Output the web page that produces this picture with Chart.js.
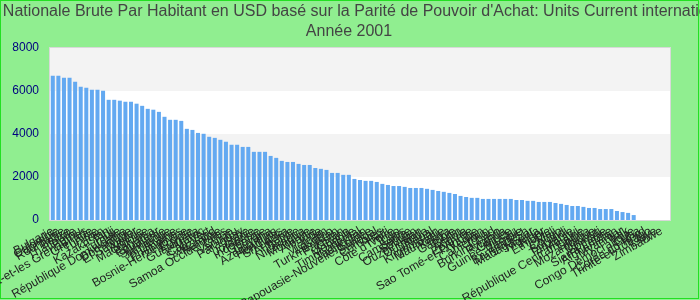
<!DOCTYPE html>
<html>
<head>
<meta charset="utf-8">
<script src="https://cdn.jsdelivr.net/npm/chart.js@4/dist/chart.umd.min.js"></script>
<style>
  html, body { margin: 0; padding: 0; background: #90ee90; }
  #wrap { width: 700px; height: 300px; }
</style>
</head>
<body>
<div id="wrap"><canvas id="chart" width="700" height="300"></canvas></div>
<script>
// --- Données ---
const titleLines = [
    "Rente Nationale Brute Par Habitant en USD basé sur la Parité de Pouvoir d'Achat: Units Current international $",
    "Année 2001"
];

const countries = [
    "Bulgarie", "Colombie", "Roumanie", "Belize", "Thaïlande", "Pérou",
    "Saint-Vincent-et-les Grenadines", "Grenade", "Tunisie", "Iran", "Kazakhstan",
    "Fidji", "Turquie", "République Dominicaine", "Dominique", "El Salvador",
    "Algérie", "Macédoine", "Panama", "Équateur", "Suriname", "Jamaïque",
    "Ukraine", "Philippines", "Bosnie-Herzégovine", "Égypte", "Guatemala", "Maroc",
    "Cap-Vert", "Swaziland", "Namibie", "Samoa Occidentales", "Chine", "Vanuatu",
    "Paraguay", "Syrie", "Jordanie", "Indonésie", "Géorgie", "Guyana", "Azerbaïdjan",
    "Honduras", "Sri Lanka", "Arménie", "Bolivie", "Nicaragua", "Moldavie", "Albanie",
    "Inde", "Vietnam", "Lesotho", "Turkménistan", "Pakistan", "Ghana", "Mongolie",
    "Timor oriental", "Tadjikistan", "Papouasie-Nouvelle-Guinée", "Sénégal", "Comores",
    "Haïti", "Côte d'Ivoire", "Togo", "Laos", "Cambodge", "Soudan", "Ouzbékistan",
    "Ouganda", "Népal", "Kirghizistan", "Mauritanie", "Kenya", "Gambie", "Bénin",
    "Angola", "Érythrée", "Sao Tomé-et-Principe", "Yémen", "Cameroun", "Tchad",
    "Burkina Faso", "Rwanda", "Guinée", "Guinée-Bissau", "Zambie", "Bangladesh",
    "Madagascar", "Nigeria", "Niger", "Éthiopie", "Mali", "Congo", "Burundi",
    "Tanzanie", "Malawi", "République Centrafricaine", "Liberia", "Mozambique",
    "Djibouti", "Somalie", "Sierra Leone", "Afghanistan", "Myanmar", "Irak",
    "Congo Démocratique", "Cuba", "Corée du Nord", "Trinité-et-Tobago",
    "Libye", "Zimbabwe", ""
];

const gniValues = [
    6710, 6710, 6620, 6620, 6430, 6200, 6150, 6060, 6060, 6010,
    5590, 5590, 5550, 5500, 5500, 5410, 5310, 5170, 5130, 5030,
    4800, 4660, 4660, 4610, 4240, 4190, 4050, 4010, 3870, 3820,
    3730, 3640, 3500, 3500, 3400, 3400, 3170, 3170, 3170, 2980,
    2890, 2750, 2700, 2700, 2610, 2560, 2560, 2420, 2380, 2330,
    2190, 2190, 2100, 2100, 1910, 1860, 1820, 1820, 1770, 1680,
    1630, 1580, 1580, 1540, 1490, 1490, 1490, 1450, 1400, 1350,
    1310, 1260, 1210, 1120, 1070, 1030, 1030, 980, 980, 980,
    980, 980, 980, 930, 930, 890, 890, 840, 840, 840,
    790, 750, 700, 650, 650, 610, 560, 560, 510, 510,
    510, 420, 370, 330, 230,
    null, null, null, null, null, null
];

const yTicks = [0, 2000, 4000, 6000, 8000];

// --- Fond, bandes et titre ---
const decor = {
    id: 'decor',
    beforeDraw(chart) {
        const { ctx, chartArea: a, scales: { y } } = chart;
        ctx.save();
        ctx.fillStyle = '#90ee90';
        ctx.fillRect(0, 0, chart.width, chart.height);

        // bandes alternées
        for (let i = 0; i < yTicks.length - 1; i++) {
            const top = y.getPixelForValue(yTicks[i + 1]);
            const bot = y.getPixelForValue(yTicks[i]);
            ctx.fillStyle = i % 2 ? '#f3f3f3' : '#ffffff';
            ctx.fillRect(a.left, top, a.right - a.left, bot - top);
        }
        ctx.strokeStyle = '#d8d8d8';
        ctx.lineWidth = 1;
        ctx.strokeRect(a.left - 0.5, a.top - 0.5, a.right - a.left + 1, a.bottom - a.top + 1);

        // titre (débordant, comme l'original)
        ctx.fillStyle = '#444';
        ctx.font = '16px Arial, "Liberation Sans", sans-serif';
        ctx.textAlign = 'center';
        ctx.textBaseline = 'middle';
        titleLines.forEach((t, i) => ctx.fillText(t, 349, 12 + i * 20));

        // cadre vert
        ctx.strokeStyle = '#22e022';
        ctx.lineWidth = 1;
        ctx.strokeRect(0.5, 0.5, 698, 298);
        ctx.restore();
    }
};

const ctx = document.getElementById('chart').getContext('2d');
new Chart(ctx, {
    type: 'bar',
    data: {
        labels: countries,
        datasets: [{
            data: gniValues,
            backgroundColor: '#63a9f1',
            barPercentage: 0.9,
            categoryPercentage: 0.8
        }]
    },
    options: {
        responsive: false,
        animation: false,
        layout: { padding: { top: 48, left: 0, right: 30, bottom: 0 } },
        plugins: {
            legend: { display: false },
            title: { display: false },
            tooltip: { enabled: false }
        },
        scales: {
            x: {
                grid: { display: false, drawTicks: false },
                border: { display: false },
                ticks: {
                    autoSkip: false,
                    maxRotation: 30,
                    minRotation: 30,
                    padding: 4,
                    color: '#222',
                    font: { family: 'Arial', size: 12 }
                },
                afterFit: s => { s.height = 80; }
            },
            y: {
                min: 0,
                max: 8000,
                grid: { display: false, drawTicks: false },
                border: { display: false },
                afterBuildTicks: s => { s.ticks = yTicks.map(v => ({ value: v })); },
                ticks: {
                    padding: 11,
                    color: '#000080',
                    font: { family: 'Arial', size: 12 },
                    callback: v => String(v)
                },
                afterFit: s => { s.width = 50; }
            }
        }
    },
    plugins: [decor]
});
</script>
</body>
</html>
